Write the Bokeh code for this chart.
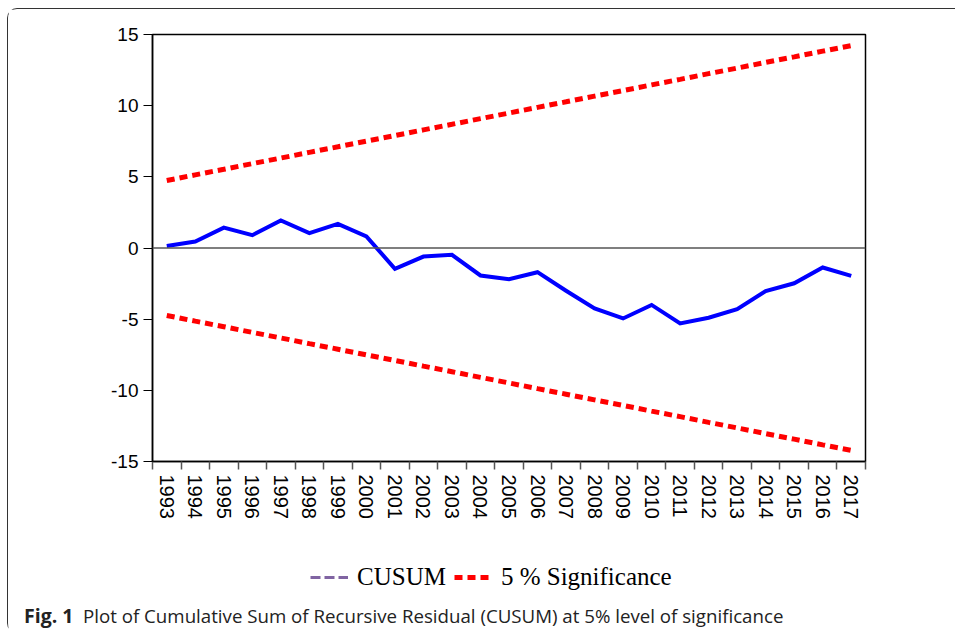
from bokeh.plotting import figure
from bokeh.layouts import column
from bokeh.models import (Range1d, FixedTicker, Span, Legend, LegendItem, Label,
                          ColumnDataSource)
from bokeh.embed import file_html
from bokeh.resources import INLINE

# ---- data ----
years = list(range(1993, 2018))
cusum = [0.14, 0.45, 1.43, 0.90, 1.94, 1.05, 1.69, 0.82, -1.46, -0.60, -0.48,
         -1.93, -2.19, -1.70, -3.00, -4.24, -4.95, -4.00, -5.30, -4.90, -4.30,
         -3.03, -2.48, -1.37, -1.96]
upper = [4.74, 5.14, 5.53, 5.93, 6.32, 6.72, 7.11, 7.51, 7.90, 8.30, 8.69,
         9.09, 9.48, 9.88, 10.27, 10.67, 11.06, 11.46, 11.85, 12.25, 12.64,
         13.04, 13.43, 13.83, 14.22]
lower = [-4.74, -5.14, -5.53, -5.93, -6.32, -6.72, -7.11, -7.51, -7.90, -8.30,
         -8.69, -9.09, -9.48, -9.88, -10.27, -10.67, -11.06, -11.46, -11.85,
         -12.25, -12.64, -13.04, -13.43, -13.83, -14.22]
y_ticks = [-15, -10, -5, 0, 5, 10, 15]
legend_labels = ["CUSUM", "5 % Significance"]
caption_bold = "Fig. 1"
caption_text = "Plot of Cumulative Sum of Recursive Residual (CUSUM) at 5% level of significance"

W, H1, H2 = 947, 536, 88

# ---------------- main chart ----------------
p = figure(width=W, height=H1, output_backend="svg", toolbar_location=None,
           x_range=Range1d(years[0] - 0.5, years[-1] + 0.5),
           y_range=Range1d(-15, 15),
           min_border_left=144, min_border_right=W - 857,
           min_border_top=25, min_border_bottom=H1 - 452)
p.grid.visible = False
p.outline_line_color = "black"
p.outline_line_width = 1.5
p.background_fill_color = "white"
p.border_fill_color = "white"

xa = p.xaxis[0]
xa.ticker = FixedTicker(ticks=years, minor_ticks=[y - 0.5 for y in years] + [years[-1] + 0.5])
xa.major_tick_out = 0
xa.major_tick_in = 0
xa.minor_tick_out = 8
xa.minor_tick_in = 0
xa.minor_tick_line_color = "#555555"
xa.minor_tick_line_width = 1.5
xa.axis_line_color = "black"
xa.axis_line_width = 1.5
xa.major_label_orientation = "vertical"
xa.major_label_standoff = 5
xa.major_label_text_font = "Liberation Sans"
xa.major_label_text_font_size = "20px"
xa.major_label_text_color = "black"

ya = p.yaxis[0]
ya.ticker = FixedTicker(ticks=y_ticks)
ya.major_label_overrides = {t: str(t) for t in y_ticks}
ya.major_tick_out = 9
ya.major_tick_in = 0
ya.minor_tick_out = 0
ya.minor_tick_in = 0
ya.major_tick_line_color = "black"
ya.axis_line_color = "black"
ya.axis_line_width = 1.5
ya.major_label_standoff = 5
ya.major_label_text_font = "Liberation Sans"
ya.major_label_text_font_size = "19px"
ya.major_label_text_color = "black"

p.add_layout(Span(location=0, dimension="width", line_color="#555555", line_width=1.3))

src = ColumnDataSource(dict(x=years, cusum=cusum, upper=upper, lower=lower))
p.line("x", "upper", source=src, line_color="#ff0000", line_width=5, line_dash="8 5")
p.line("x", "lower", source=src, line_color="#ff0000", line_width=5, line_dash="8 5")
p.line("x", "cusum", source=src, line_color="#0000ff", line_width=4, line_join="miter")

# ---------------- legend + caption strip ----------------
q = figure(width=W, height=H2, output_backend="svg", toolbar_location=None,
           x_axis_type=None, y_axis_type=None,
           x_range=Range1d(0, W), y_range=Range1d(0, H2),
           min_border_left=0, min_border_right=0, min_border_top=0, min_border_bottom=0)
q.grid.visible = False
q.outline_line_color = None
q.background_fill_color = "white"
q.border_fill_color = "white"
for fig in (p, q):
    if hasattr(fig, "frame_align"):
        fig.frame_align = False

# invisible renderers that only lend their style to the legend
r_cusum_leg = q.line("x", "cusum", source=src, line_color="#8064a2", line_width=3,
                     line_dash="10 4", visible=False)
r_sig_leg = q.line("x", "upper", source=src, line_color="#ff0000", line_width=5,
                   line_dash="8 5", visible=False)

legend = Legend(items=[LegendItem(label=legend_labels[0], renderers=[r_cusum_leg]),
                       LegendItem(label=legend_labels[1], renderers=[r_sig_leg])],
                orientation="horizontal", location=(302, 42),
                glyph_width=38, glyph_height=20, label_standoff=9, spacing=8,
                padding=0, margin=0, border_line_alpha=0, background_fill_alpha=0,
                inactive_fill_alpha=0, click_policy="none",
                label_text_font="Liberation Serif", label_text_font_size="25px",
                label_text_color="black")
q.add_layout(legend, "center")

q.add_layout(Label(x=15.5, y=18, text=caption_bold, text_font="Open Sans",
                   text_font_style="bold", text_font_size="19.5px",
                   text_color="#222222", text_baseline="middle"))
q.add_layout(Label(x=74.5, y=18, text=caption_text, text_font="Open Sans",
                   text_font_size="18.7px", text_color="#222222",
                   text_baseline="middle"))

layout = column(p, q, spacing=0)
layout.styles = {"margin-left": "7px", "margin-top": "8px",
                 "border-left": "1.5px solid #333333", "border-top": "1.5px solid #333333",
                 "border-top-left-radius": "10px", "border-bottom-left-radius": "10px"}

open("out.html", "w").write(file_html(layout, INLINE))
